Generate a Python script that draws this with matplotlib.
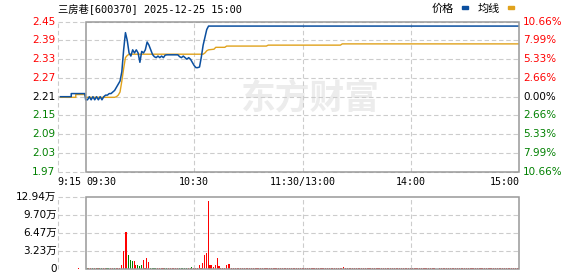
import matplotlib
matplotlib.use('Agg')
import matplotlib.pyplot as plt
from matplotlib.patches import Rectangle
from matplotlib.transforms import blended_transform_factory

W, H = 578, 276

# minutes from 09:30 (negative = call auction 9:15-9:30, 120 = 11:30/13:00)
price_t = [-14, -8, -8, -0.5,
           0, 1, 2, 3, 4, 5, 6, 7, 8, 9, 10, 11, 12, 13, 14, 15, 16, 17, 18, 19,
           20, 21, 22, 23, 24, 25, 26, 27, 28, 29, 30, 31, 32, 33, 34, 35, 36, 37, 38, 39,
           40, 41, 42, 43, 44, 45, 51, 52, 53, 54, 55, 56, 57, 58, 59,
           60, 61, 62, 63, 64, 65, 66, 67, 68, 240]
price_v = [2.21, 2.21, 2.22, 2.22,
           2.20, 2.20, 2.21, 2.20, 2.21, 2.20, 2.21, 2.20, 2.21, 2.20, 2.21, 2.215, 2.215, 2.22, 2.22, 2.225, 2.23, 2.24, 2.25, 2.26,
           2.29, 2.36, 2.415, 2.39, 2.35, 2.34, 2.36, 2.35, 2.36, 2.35, 2.32, 2.355, 2.35, 2.36, 2.385, 2.375, 2.36, 2.345, 2.338, 2.335,
           2.34, 2.335, 2.34, 2.335, 2.343, 2.344, 2.344, 2.338, 2.335, 2.34, 2.335, 2.33, 2.335, 2.33, 2.32,
           2.31, 2.303, 2.303, 2.305, 2.337, 2.375, 2.40, 2.425, 2.436, 2.436]

avg_t = [-14, -5.5, -5.5, -0.5, 0, 16, 17, 18, 19, 20, 21, 22, 23, 24, 65, 66, 67, 68,
         71, 72, 77, 78, 100, 101, 141, 142, 240]
avg_v = [2.208, 2.208, 2.217, 2.217, 2.208, 2.208, 2.21, 2.215, 2.225, 2.26, 2.30, 2.335, 2.342, 2.346, 2.346, 2.35, 2.357, 2.36,
         2.362, 2.368, 2.368, 2.372, 2.372, 2.375, 2.375, 2.379, 2.379]

# volume per minute (万), m0..m240
vol = [0.2, 0.18, 0.2, 0.25, 0.18, 0.2, 0.18, 0.2, 0.18, 0.2, 0.2, 0.18, 0.2, 0.18, 0.2, 0.2, 0.18, 0.2, 0.18,
       0.7, 3.2, 6.7, 6.55, 2.5, 1.6, 1.45, 1.4, 0.7, 0.7, 0.55, 0.7, 1.6, 0.2, 2.0, 1.25,
       0.18, 0.2, 0.18, 0.2, 0.18, 0.18, 0.2, 0.18, 0.2, 0.18, 0.18, 0.2, 0.18, 0.18, 0.2, 0.18, 0.18, 0.2,
       0.18, 0.18, 0.2, 0.18, 0.2, 0.4, 0.2, 0.18, 0.2,
       0.7, 0.2, 1.05, 2.5, 2.85, 12.1, 0.7, 0.7, 0.35, 0.72, 1.97, 0.54, 0.2, 0.2, 0.2, 0.72, 0.9, 0.9,
       0.18, 0.18, 0.18, 0.18, 0.18, 0.18, 0.18, 0.18, 0.18, 0.18, 0.18, 0.18, 0.18, 0.18, 0.18, 0.18, 0.18, 0.18, 0.18, 0.18,
       0.18, 0.18, 0.18, 0.18, 0.18, 0.18, 0.18, 0.18, 0.18, 0.18, 0.18, 0.18, 0.18, 0.18, 0.18, 0.18, 0.18, 0.18, 0.18, 0.18,
       0.18, 0.18, 0.18, 0.18, 0.18, 0.18, 0.18, 0.18, 0.18, 0.18, 0.18, 0.18, 0.18, 0.18, 0.18, 0.18, 0.18, 0.18, 0.18, 0.18,
       0.18, 0.18, 0.4, 0.18, 0.18, 0.18, 0.18, 0.18, 0.18, 0.18, 0.18, 0.18, 0.18, 0.18, 0.18, 0.18, 0.18, 0.18, 0.18, 0.18,
       0.18, 0.18, 0.18, 0.18, 0.18, 0.18, 0.18, 0.18, 0.18, 0.18, 0.18, 0.18, 0.18, 0.18, 0.18, 0.18, 0.18, 0.18, 0.18, 0.18,
       0.18, 0.18, 0.18, 0.18, 0.18, 0.18, 0.18, 0.18, 0.18, 0.18, 0.18, 0.18, 0.18, 0, 0, 0.18, 0.18, 0.18, 0.18, 0.18,
       0.18, 0.18, 0.18, 0.18, 0.18, 0.18, 0.18, 0.18, 0.18, 0.18, 0.18, 0.18, 0.18, 0.18, 0.18, 0.18, 0.18, 0.18, 0.18, 0.18,
       0.18, 0.18, 0.18, 0.18, 0.18, 0.18, 0.18, 0.18, 0.18, 0.18, 0.18, 0.18, 0.18, 0.18, 0.18, 0.18, 0.18, 0.18, 0.18, 0.18,
       0.18]
vol_dir = ("grrgrgrggrrggrrgrrr"
           "rrrrgggrrgggrrrr"
           "ggggrrrrggrrrrrrgggggrrgrrr"
           "rrrrrrrrrrrrrrrrrr"
           + "r" * 161)
auction_t = [-5]
auction_v = [0.2]

price_ticks = [2.45, 2.39, 2.33, 2.27, 2.21, 2.15, 2.09, 2.03, 1.97]
pct_labels = ['10.66%', '7.99%', '5.33%', '2.66%', '0.00%', '2.66%', '5.33%', '7.99%', '10.66%']
vol_ticks = [12.94, 9.70, 6.47, 3.23, 0]
vol_labels = ['12.94万', '9.70万', '6.47万', '3.23万', '0']
time_ticks = [-15.5, 0, 60, 120, 180, 240]
time_labels = ['9:15', '09:30', '10:30', '11:30/13:00', '14:00', '15:00']
time_ha = ['left', 'left', 'center', 'center', 'center', 'right']

PRE_CLOSE = 2.21
BLUE = '#0b4f9f'
ORANGE = '#e0a21c'
RED = '#ff0000'
GREEN = '#008000'
GRID = '#cccccc'
FRAME = '#999999'
NUM_FONT = ['DejaVu Sans', 'Noto Sans CJK SC']
MONO_FONT = ['DejaVu Sans Mono', 'Noto Sans CJK SC']


def box(x0, y0, x1, y1):
    return [x0 / W, 1 - y1 / H, (x1 - x0) / W, (y1 - y0) / H]


def level_color(v):
    if v > PRE_CLOSE + 1e-9:
        return RED
    if v < PRE_CLOSE - 1e-9:
        return GREEN
    return 'black'


fig = plt.figure(figsize=(W / 100, H / 100), dpi=100)

# price panel
ax = fig.add_axes(box(57.7, 21.7, 519.3, 171.7))
ax.set_xlim(-15.5, 240)
ax.set_ylim(1.97, 2.45)
ax.axis('off')

ax.text(310 / W, 1 - 98 / H, '东方财富', transform=fig.transFigure, fontsize=25, weight='bold',
        color='#ececec', ha='center', va='center', family='Noto Sans CJK SC', zorder=0)

for y in price_ticks:
    ax.plot([-15.5, 240], [y, y], color=GRID, lw=0.8, dashes=(4, 2.5), clip_on=False, zorder=1)
for x in [-15.5, 60, 120, 180]:
    ax.plot([x, x], [1.97, 2.45], color=GRID, lw=0.8, dashes=(4, 2.5), clip_on=False, zorder=1)
ax.add_patch(Rectangle((0, 1.97), 240, 0.48, fill=False, ec=FRAME, lw=1.1, clip_on=False, zorder=4))

ax.plot(avg_t, avg_v, color=ORANGE, lw=1.0, zorder=3)
ax.plot(price_t, price_v, color=BLUE, lw=1.1, zorder=3)

ty = blended_transform_factory(fig.transFigure, ax.transData)
for y, pl in zip(price_ticks, pct_labels):
    c = level_color(y)
    ax.text(55.5 / W, y, '%.2f' % y, transform=ty, ha='right', va='center', color=c,
            fontsize=7.5, family=NUM_FONT)
    ax.text(523 / W, y, pl, transform=ty, ha='left', va='center', color=c,
            fontsize=7.5, family=NUM_FONT)

tx = blended_transform_factory(ax.transData, fig.transFigure)
for x, lab, ha in zip(time_ticks, time_labels, time_ha):
    if lab == '09:30':
        x = 0.6
    ax.text(x, 1 - 182 / H, lab, transform=tx, ha=ha, va='center', fontsize=7.2,
            family=MONO_FONT, clip_on=False)

# volume panel
vax = fig.add_axes(box(57.7, 196.7, 519.3, 269))
vax.set_xlim(-15.5, 240)
vax.set_ylim(0, 12.94)
vax.axis('off')

for y in vol_ticks[1:-1]:
    vax.plot([-15.5, 240], [y, y], color=GRID, lw=0.8, dashes=(4, 2.5), clip_on=False, zorder=1)
vax.plot([-15.5, 0], [12.94, 12.94], color=GRID, lw=0.8, dashes=(4, 2.5), clip_on=False, zorder=1)
for x in [-15.5, 60, 120, 180]:
    vax.plot([x, x], [0, 12.94], color=GRID, lw=0.8, dashes=(4, 2.5), clip_on=False, zorder=1)
vax.add_patch(Rectangle((0, 0), 240, 12.94, fill=False, ec=FRAME, lw=1.1, clip_on=False, zorder=4))

mins = list(range(len(vol)))
colors = [RED if d == 'r' else GREEN for d in vol_dir]
vax.bar([m + 0.8 for m in mins], vol, width=0.6, color=colors, zorder=2)
vax.bar([m + 0.8 for m in auction_t], auction_v, width=0.6, color=RED, zorder=2)

tv = blended_transform_factory(fig.transFigure, vax.transData)
for y, lab in zip(vol_ticks, vol_labels):
    vax.text(56.5 / W, y, lab, transform=tv, ha='right', va='center', fontsize=7.5,
             family=NUM_FONT, color='black')

# title and legend
fig.text(58 / W, 1 - 8.5 / H, '三房巷[600370] 2025-12-25 15:00', fontsize=7.4,
         family=MONO_FONT, va='center')
fig.text(443 / W, 1 - 9 / H, '价格', fontsize=8, family='Noto Sans CJK SC', ha='center', va='center')
fig.add_artist(Rectangle((462 / W, 1 - 9 / H), 6 / W, 2.5 / H, transform=fig.transFigure, color=BLUE))
fig.text(489 / W, 1 - 9 / H, '均线', fontsize=8, family='Noto Sans CJK SC', ha='center', va='center')
fig.add_artist(Rectangle((508 / W, 1 - 9 / H), 5.5 / W, 2.5 / H, transform=fig.transFigure, color=ORANGE))

fig.savefig('out.png', dpi=100)
